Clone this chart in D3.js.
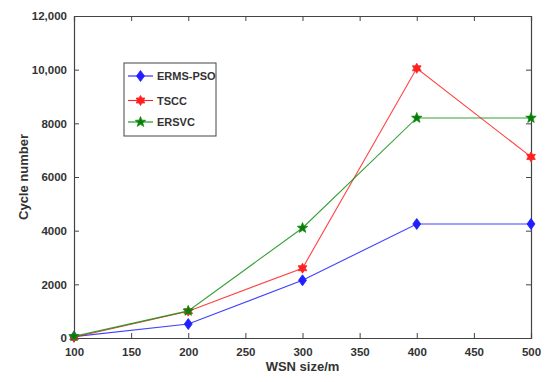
<!DOCTYPE html>
<html>
<head>
<meta charset="utf-8">
<script src="https://cdn.jsdelivr.net/npm/d3@7"></script>
<style>
  body { margin: 0; background: #fff; }
  text { font-family: "Liberation Sans", Arial, sans-serif; font-weight: bold; fill: #333; }
</style>
</head>
<body>
<script>
// data
var sizes = [100, 200, 300, 400, 500];
var ermsPso = [50, 520, 2150, 4250, 4250];
var tscc = [30, 1000, 2600, 10050, 6750];
var ersvc = [60, 1010, 4100, 8200, 8200];
var seriesNames = ["ERMS-PSO", "TSCC", "ERSVC"];
var yTicks = [0, 2000, 4000, 6000, 8000, 10000, 12000];
var xTicks = [100, 150, 200, 250, 300, 350, 400, 450, 500];

var series = [
  { name: seriesNames[0], values: ermsPso, color: "#1f1fff", marker: "diamond" },
  { name: seriesNames[1], values: tscc, color: "#ff2020", marker: "hexagram" },
  { name: seriesNames[2], values: ersvc, color: "#139013", marker: "pentagram", fill: "#0a7a0a" }
];

var width = 550, height = 382;
var margin = { top: 16, right: 19, bottom: 44, left: 74 };
var w = width - margin.left - margin.right;
var h = height - margin.top - margin.bottom;

var svg = d3.select("body").append("svg")
  .attr("width", width)
  .attr("height", height);

var g = svg.append("g")
  .attr("transform", "translate(" + margin.left + "," + margin.top + ")");

var x = d3.scaleLinear().domain([100, 500]).range([0, w]);
var y = d3.scaleLinear().domain([0, 12000]).range([h, 0]);

function fmt(d) { return d >= 10000 ? d3.format(",")(d) : String(d); }

// axes with inward ticks, MATLAB-like box
var tickLen = 5;
g.append("g").attr("transform", "translate(0," + h + ")")
  .call(d3.axisBottom(x).tickValues(xTicks).tickSize(-tickLen).tickPadding(10))
  .call(function(a) { a.selectAll("text").attr("font-size", 11.5); });
g.append("g").call(d3.axisTop(x).tickValues(xTicks).tickSize(-tickLen).tickFormat(""));
g.append("g")
  .call(d3.axisLeft(y).tickValues(yTicks).tickSize(-tickLen).tickPadding(7).tickFormat(fmt))
  .call(function(a) { a.selectAll("text").attr("font-size", 11.5); });
g.append("g").attr("transform", "translate(" + w + ",0)")
  .call(d3.axisRight(y).tickValues(yTicks).tickSize(-tickLen).tickFormat(""));

g.selectAll(".domain").attr("stroke", "#444").attr("stroke-width", 1.2);
g.selectAll(".tick line").attr("stroke", "#444");
g.selectAll(".tick text").style("fill", "#333");

// axis labels
svg.append("text")
  .attr("x", margin.left + w / 2)
  .attr("y", 371)
  .attr("text-anchor", "middle")
  .attr("font-size", 13)
  .text("WSN size/m");

svg.append("text")
  .attr("transform", "translate(28," + (margin.top + h / 2) + ") rotate(-90)")
  .attr("text-anchor", "middle")
  .attr("font-size", 13)
  .text("Cycle number");

// marker shapes
function starPath(points, outer, inner) {
  var p = [];
  for (var i = 0; i < points * 2; i++) {
    var r = i % 2 === 0 ? outer : inner;
    var a = -Math.PI / 2 + i * Math.PI / points;
    p.push([r * Math.cos(a), r * Math.sin(a)]);
  }
  return "M" + p.map(function(q) { return q[0].toFixed(2) + "," + q[1].toFixed(2); }).join("L") + "Z";
}
var markerPaths = {
  diamond: "M0,-5.5L4,0L0,5.5L-4,0Z",
  hexagram: starPath(6, 5, 2.9),
  pentagram: starPath(5, 5.5, 2.3)
};

var line = d3.line()
  .x(function(d, i) { return x(sizes[i]); })
  .y(function(d) { return y(d); });

series.forEach(function(s) {
  g.append("path")
    .datum(s.values)
    .attr("fill", "none")
    .attr("stroke", s.color)
    .attr("stroke-opacity", 0.85)
    .attr("stroke-width", 1.1)
    .attr("d", line);

  g.selectAll(null)
    .data(s.values)
    .enter()
    .append("path")
    .attr("transform", function(d, i) { return "translate(" + x(sizes[i]) + "," + y(d) + ")"; })
    .attr("d", markerPaths[s.marker])
    .attr("fill", s.fill || s.color)
    .attr("stroke", s.color)
    .attr("stroke-width", 0.8);
});

// legend
var lg = svg.append("g").attr("transform", "translate(124,63)");
lg.append("rect")
  .attr("width", 92).attr("height", 73)
  .attr("fill", "#fff").attr("stroke", "#444").attr("stroke-width", 1);
var rowY = [13, 37.5, 59];
series.forEach(function(s, i) {
  var row = lg.append("g").attr("transform", "translate(0," + rowY[i] + ")");
  row.append("line").attr("x1", 4).attr("x2", 29).attr("y1", 0).attr("y2", 0)
    .attr("stroke", s.color).attr("stroke-width", 1.1);
  row.append("path").attr("transform", "translate(16.5,0)")
    .attr("d", markerPaths[s.marker])
    .attr("fill", s.fill || s.color).attr("stroke", s.color).attr("stroke-width", 0.8);
  row.append("text").attr("x", 33).attr("y", 4).attr("font-size", 11).text(s.name);
});
</script>
</body>
</html>
